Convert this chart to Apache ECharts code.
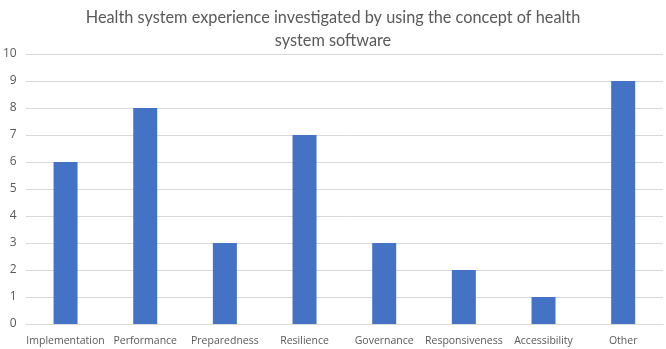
<!DOCTYPE html>
<html>
<head>
<meta charset="utf-8">
<script src="https://cdn.jsdelivr.net/npm/echarts@6/dist/echarts.min.js"></script>
<style>
    html, body { margin: 0; padding: 0; background: #fff; }
    #chart { width: 666px; height: 349px; }
</style>
</head>
<body>
<div id="chart"></div>
<script>
// chart data
var categories = ["Implementation", "Performance", "Preparedness", "Resilience", "Governance", "Responsiveness", "Accessibility", "Other"];
var counts = [6, 8, 3, 7, 3, 2, 1, 9];
var yTicks = [0, 10, 1]; // min, max, step

var myChart = echarts.init(document.getElementById("chart"));
var option = {
    animation: false,
    title: {
        text: "Health system experience investigated by using the concept of health\nsystem software",
        left: "center",
        top: 1,
        textStyle: {
            fontFamily: "Lato",
            fontSize: 16.3,
            fontWeight: "normal",
            color: "#595959",
            lineHeight: 23
        }
    },
    grid: {
        left: 25,
        right: 3,
        top: 54,
        bottom: 25,
        containLabel: false
    },
    xAxis: {
        type: "category",
        data: categories,
        axisLine: { lineStyle: { color: "#d9d9d9" } },
        axisTick: { show: false },
        axisLabel: {
            interval: 0,
            fontFamily: "Open Sans",
            fontSize: 10.5,
            color: "#595959",
            margin: 12
        }
    },
    yAxis: {
        type: "value",
        min: yTicks[0],
        max: yTicks[1],
        interval: yTicks[2],
        axisLine: { show: false },
        axisTick: { show: false },
        splitLine: { lineStyle: { color: "#d9d9d9" } },
        axisLabel: {
            fontFamily: "Open Sans",
            fontSize: 12,
            color: "#595959",
            margin: 9
        }
    },
    series: [{
        type: "bar",
        data: counts,
        barWidth: 24,
        itemStyle: { color: "#4472C4" }
    }]
};
myChart.setOption(option);
</script>
</body>
</html>
